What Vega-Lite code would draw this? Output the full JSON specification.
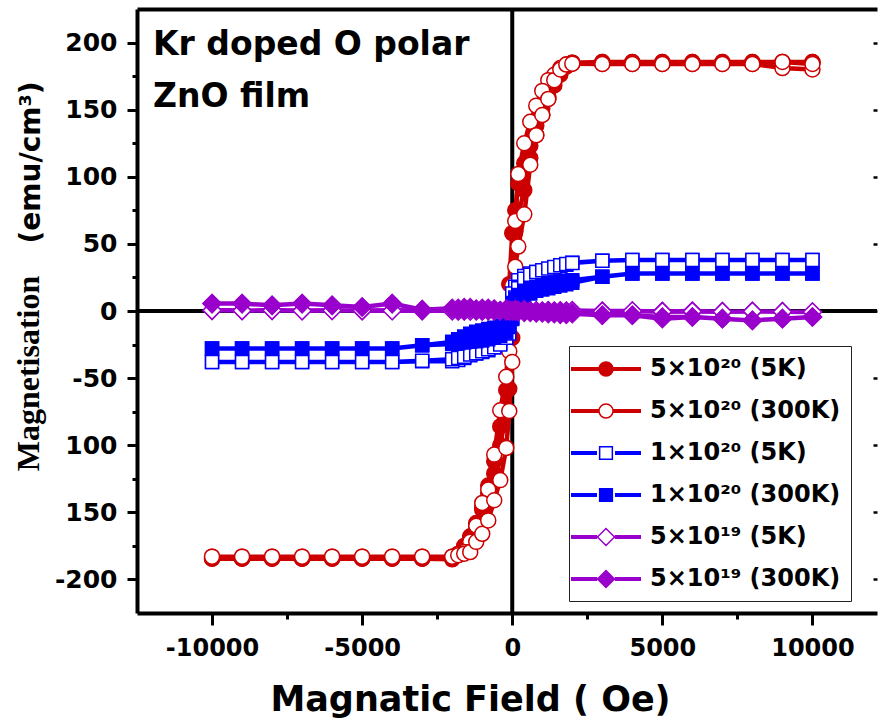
{
  "$schema": "https://vega.github.io/schema/vega-lite/v6.json",
  "width": 740,
  "height": 604,
  "autosize": {"type": "none"},
  "padding": {"left": 137, "top": 9, "right": 1, "bottom": 111},
  "background": "white",
  "config": {
    "view": {"stroke": null},
    "font": "DejaVu Sans",
    "axis": {"grid": false, "domainColor": "black", "tickColor": "black", "labelColor": "black", "titleColor": "black"}
  },
  "resolve": {"axis": {"x": "independent", "y": "independent"}},
  "data": {"values": [
    {"s":"5×10²⁰ (5K)","h":10000,"m":185.5},{"s":"5×10²⁰ (5K)","h":9000,"m":185.5},{"s":"5×10²⁰ (5K)","h":8000,"m":185.5},{"s":"5×10²⁰ (5K)","h":7000,"m":185.5},{"s":"5×10²⁰ (5K)","h":6000,"m":185.5},{"s":"5×10²⁰ (5K)","h":5000,"m":185.5},{"s":"5×10²⁰ (5K)","h":4000,"m":185.5},{"s":"5×10²⁰ (5K)","h":3000,"m":185.5},
    {"s":"5×10²⁰ (5K)","h":2000,"m":185},{"s":"5×10²⁰ (5K)","h":1800,"m":183},{"s":"5×10²⁰ (5K)","h":1600,"m":178},{"s":"5×10²⁰ (5K)","h":1400,"m":170},{"s":"5×10²⁰ (5K)","h":1200,"m":160},{"s":"5×10²⁰ (5K)","h":1000,"m":151},{"s":"5×10²⁰ (5K)","h":800,"m":138},{"s":"5×10²⁰ (5K)","h":600,"m":123},{"s":"5×10²⁰ (5K)","h":400,"m":110},{"s":"5×10²⁰ (5K)","h":200,"m":95},
    {"s":"5×10²⁰ (5K)","h":100,"m":75},{"s":"5×10²⁰ (5K)","h":0,"m":58},
    {"s":"5×10²⁰ (5K)","h":-100,"m":20},{"s":"5×10²⁰ (5K)","h":-200,"m":-59},{"s":"5×10²⁰ (5K)","h":-400,"m":-86},{"s":"5×10²⁰ (5K)","h":-600,"m":-112},{"s":"5×10²⁰ (5K)","h":-800,"m":-130},{"s":"5×10²⁰ (5K)","h":-1000,"m":-146},{"s":"5×10²⁰ (5K)","h":-1200,"m":-158},{"s":"5×10²⁰ (5K)","h":-1400,"m":-168},{"s":"5×10²⁰ (5K)","h":-1600,"m":-175},{"s":"5×10²⁰ (5K)","h":-1800,"m":-181},{"s":"5×10²⁰ (5K)","h":-2000,"m":-184},
    {"s":"5×10²⁰ (5K)","h":-3000,"m":-184.5},{"s":"5×10²⁰ (5K)","h":-4000,"m":-184.5},{"s":"5×10²⁰ (5K)","h":-5000,"m":-184.5},{"s":"5×10²⁰ (5K)","h":-6000,"m":-184.5},{"s":"5×10²⁰ (5K)","h":-7000,"m":-184.5},{"s":"5×10²⁰ (5K)","h":-8000,"m":-184.5},{"s":"5×10²⁰ (5K)","h":-9000,"m":-184.5},{"s":"5×10²⁰ (5K)","h":-10000,"m":-184.5},
    {"s":"5×10²⁰ (5K)","h":-10000,"m":-184.5},{"s":"5×10²⁰ (5K)","h":-9000,"m":-184.5},{"s":"5×10²⁰ (5K)","h":-8000,"m":-184.5},{"s":"5×10²⁰ (5K)","h":-7000,"m":-184.5},{"s":"5×10²⁰ (5K)","h":-6000,"m":-184.5},{"s":"5×10²⁰ (5K)","h":-5000,"m":-184.5},{"s":"5×10²⁰ (5K)","h":-4000,"m":-184.5},{"s":"5×10²⁰ (5K)","h":-3000,"m":-184.5},
    {"s":"5×10²⁰ (5K)","h":-2000,"m":-185},{"s":"5×10²⁰ (5K)","h":-1800,"m":-182},{"s":"5×10²⁰ (5K)","h":-1600,"m":-176},{"s":"5×10²⁰ (5K)","h":-1400,"m":-168},{"s":"5×10²⁰ (5K)","h":-1200,"m":-160},{"s":"5×10²⁰ (5K)","h":-1000,"m":-148},{"s":"5×10²⁰ (5K)","h":-800,"m":-136},{"s":"5×10²⁰ (5K)","h":-600,"m":-121},{"s":"5×10²⁰ (5K)","h":-400,"m":-100},{"s":"5×10²⁰ (5K)","h":-200,"m":-75},
    {"s":"5×10²⁰ (5K)","h":-100,"m":-58},{"s":"5×10²⁰ (5K)","h":0,"m":-20},
    {"s":"5×10²⁰ (5K)","h":100,"m":59},{"s":"5×10²⁰ (5K)","h":200,"m":72},{"s":"5×10²⁰ (5K)","h":400,"m":90},{"s":"5×10²⁰ (5K)","h":600,"m":114},{"s":"5×10²⁰ (5K)","h":800,"m":131},{"s":"5×10²⁰ (5K)","h":1000,"m":146},{"s":"5×10²⁰ (5K)","h":1200,"m":158},{"s":"5×10²⁰ (5K)","h":1400,"m":168},{"s":"5×10²⁰ (5K)","h":1600,"m":176},{"s":"5×10²⁰ (5K)","h":1800,"m":182},{"s":"5×10²⁰ (5K)","h":2000,"m":185},
    {"s":"5×10²⁰ (5K)","h":3000,"m":185.5},{"s":"5×10²⁰ (5K)","h":4000,"m":185.5},{"s":"5×10²⁰ (5K)","h":5000,"m":185.5},{"s":"5×10²⁰ (5K)","h":6000,"m":185.5},{"s":"5×10²⁰ (5K)","h":7000,"m":185.5},{"s":"5×10²⁰ (5K)","h":8000,"m":185.5},{"s":"5×10²⁰ (5K)","h":9000,"m":185.5},{"s":"5×10²⁰ (5K)","h":10000,"m":185.5},

    {"s":"5×10²⁰ (300K)","h":10000,"m":180},{"s":"5×10²⁰ (300K)","h":9000,"m":181},{"s":"5×10²⁰ (300K)","h":8000,"m":184},{"s":"5×10²⁰ (300K)","h":7000,"m":184},{"s":"5×10²⁰ (300K)","h":6000,"m":184},{"s":"5×10²⁰ (300K)","h":5000,"m":184},{"s":"5×10²⁰ (300K)","h":4000,"m":184},{"s":"5×10²⁰ (300K)","h":3000,"m":184},
    {"s":"5×10²⁰ (300K)","h":2000,"m":184.3},{"s":"5×10²⁰ (300K)","h":1800,"m":183.6},{"s":"5×10²⁰ (300K)","h":1600,"m":181},{"s":"5×10²⁰ (300K)","h":1400,"m":176},{"s":"5×10²⁰ (300K)","h":1200,"m":172},{"s":"5×10²⁰ (300K)","h":1000,"m":164},{"s":"5×10²⁰ (300K)","h":800,"m":153},{"s":"5×10²⁰ (300K)","h":600,"m":141},{"s":"5×10²⁰ (300K)","h":400,"m":125},{"s":"5×10²⁰ (300K)","h":200,"m":102},
    {"s":"5×10²⁰ (300K)","h":100,"m":67},{"s":"5×10²⁰ (300K)","h":0,"m":19},
    {"s":"5×10²⁰ (300K)","h":-100,"m":-30},{"s":"5×10²⁰ (300K)","h":-200,"m":-49},{"s":"5×10²⁰ (300K)","h":-400,"m":-74},{"s":"5×10²⁰ (300K)","h":-600,"m":-107},{"s":"5×10²⁰ (300K)","h":-800,"m":-133},{"s":"5×10²⁰ (300K)","h":-1000,"m":-143},{"s":"5×10²⁰ (300K)","h":-1200,"m":-160},{"s":"5×10²⁰ (300K)","h":-1400,"m":-172},{"s":"5×10²⁰ (300K)","h":-1600,"m":-179.6},{"s":"5×10²⁰ (300K)","h":-1800,"m":-181},{"s":"5×10²⁰ (300K)","h":-2000,"m":-183},
    {"s":"5×10²⁰ (300K)","h":-3000,"m":-183},{"s":"5×10²⁰ (300K)","h":-4000,"m":-183},{"s":"5×10²⁰ (300K)","h":-5000,"m":-183},{"s":"5×10²⁰ (300K)","h":-6000,"m":-183},{"s":"5×10²⁰ (300K)","h":-7000,"m":-183},{"s":"5×10²⁰ (300K)","h":-8000,"m":-183},{"s":"5×10²⁰ (300K)","h":-9000,"m":-183},{"s":"5×10²⁰ (300K)","h":-10000,"m":-183},
    {"s":"5×10²⁰ (300K)","h":-10000,"m":-183},{"s":"5×10²⁰ (300K)","h":-9000,"m":-183},{"s":"5×10²⁰ (300K)","h":-8000,"m":-183},{"s":"5×10²⁰ (300K)","h":-7000,"m":-183},{"s":"5×10²⁰ (300K)","h":-6000,"m":-183},{"s":"5×10²⁰ (300K)","h":-5000,"m":-183},{"s":"5×10²⁰ (300K)","h":-4000,"m":-183},{"s":"5×10²⁰ (300K)","h":-3000,"m":-183},
    {"s":"5×10²⁰ (300K)","h":-2000,"m":-183},{"s":"5×10²⁰ (300K)","h":-1800,"m":-182},{"s":"5×10²⁰ (300K)","h":-1600,"m":-180.8},{"s":"5×10²⁰ (300K)","h":-1400,"m":-179.6},{"s":"5×10²⁰ (300K)","h":-1200,"m":-172},{"s":"5×10²⁰ (300K)","h":-1000,"m":-166},{"s":"5×10²⁰ (300K)","h":-800,"m":-156},{"s":"5×10²⁰ (300K)","h":-600,"m":-141},{"s":"5×10²⁰ (300K)","h":-400,"m":-126},{"s":"5×10²⁰ (300K)","h":-200,"m":-102},
    {"s":"5×10²⁰ (300K)","h":-100,"m":-74.5},{"s":"5×10²⁰ (300K)","h":0,"m":-38},
    {"s":"5×10²⁰ (300K)","h":100,"m":33},{"s":"5×10²⁰ (300K)","h":200,"m":48},{"s":"5×10²⁰ (300K)","h":400,"m":72},{"s":"5×10²⁰ (300K)","h":600,"m":109},{"s":"5×10²⁰ (300K)","h":800,"m":131},{"s":"5×10²⁰ (300K)","h":1000,"m":146},{"s":"5×10²⁰ (300K)","h":1200,"m":158},{"s":"5×10²⁰ (300K)","h":1400,"m":172},{"s":"5×10²⁰ (300K)","h":1600,"m":180},{"s":"5×10²⁰ (300K)","h":1800,"m":183.6},{"s":"5×10²⁰ (300K)","h":2000,"m":184.3},
    {"s":"5×10²⁰ (300K)","h":3000,"m":184},{"s":"5×10²⁰ (300K)","h":4000,"m":184},{"s":"5×10²⁰ (300K)","h":5000,"m":184},{"s":"5×10²⁰ (300K)","h":6000,"m":184},{"s":"5×10²⁰ (300K)","h":7000,"m":184},{"s":"5×10²⁰ (300K)","h":8000,"m":184},{"s":"5×10²⁰ (300K)","h":9000,"m":185.5},{"s":"5×10²⁰ (300K)","h":10000,"m":184},

    {"s":"1×10²⁰ (5K)","h":10000,"m":38},{"s":"1×10²⁰ (5K)","h":9000,"m":38},{"s":"1×10²⁰ (5K)","h":8000,"m":38},{"s":"1×10²⁰ (5K)","h":7000,"m":38},{"s":"1×10²⁰ (5K)","h":6000,"m":38},{"s":"1×10²⁰ (5K)","h":5000,"m":38},{"s":"1×10²⁰ (5K)","h":4000,"m":38},{"s":"1×10²⁰ (5K)","h":3000,"m":37.5},
    {"s":"1×10²⁰ (5K)","h":2000,"m":36},{"s":"1×10²⁰ (5K)","h":1800,"m":34.5},{"s":"1×10²⁰ (5K)","h":1600,"m":33.5},{"s":"1×10²⁰ (5K)","h":1400,"m":32.5},{"s":"1×10²⁰ (5K)","h":1200,"m":31},{"s":"1×10²⁰ (5K)","h":1000,"m":30},{"s":"1×10²⁰ (5K)","h":800,"m":29},{"s":"1×10²⁰ (5K)","h":600,"m":28},{"s":"1×10²⁰ (5K)","h":400,"m":26},{"s":"1×10²⁰ (5K)","h":200,"m":23},
    {"s":"1×10²⁰ (5K)","h":100,"m":18},{"s":"1×10²⁰ (5K)","h":0,"m":13},
    {"s":"1×10²⁰ (5K)","h":-100,"m":-10},{"s":"1×10²⁰ (5K)","h":-200,"m":-17},{"s":"1×10²⁰ (5K)","h":-400,"m":-24},{"s":"1×10²⁰ (5K)","h":-600,"m":-27},{"s":"1×10²⁰ (5K)","h":-800,"m":-29.3},{"s":"1×10²⁰ (5K)","h":-1000,"m":-30.5},{"s":"1×10²⁰ (5K)","h":-1200,"m":-31.7},{"s":"1×10²⁰ (5K)","h":-1400,"m":-33},{"s":"1×10²⁰ (5K)","h":-1600,"m":-35},{"s":"1×10²⁰ (5K)","h":-1800,"m":-36.5},{"s":"1×10²⁰ (5K)","h":-2000,"m":-37.5},
    {"s":"1×10²⁰ (5K)","h":-3000,"m":-37.5},{"s":"1×10²⁰ (5K)","h":-4000,"m":-38},{"s":"1×10²⁰ (5K)","h":-5000,"m":-38},{"s":"1×10²⁰ (5K)","h":-6000,"m":-38},{"s":"1×10²⁰ (5K)","h":-7000,"m":-38},{"s":"1×10²⁰ (5K)","h":-8000,"m":-38},{"s":"1×10²⁰ (5K)","h":-9000,"m":-38},{"s":"1×10²⁰ (5K)","h":-10000,"m":-38},
    {"s":"1×10²⁰ (5K)","h":-10000,"m":-38},{"s":"1×10²⁰ (5K)","h":-9000,"m":-38},{"s":"1×10²⁰ (5K)","h":-8000,"m":-38},{"s":"1×10²⁰ (5K)","h":-7000,"m":-38},{"s":"1×10²⁰ (5K)","h":-6000,"m":-38},{"s":"1×10²⁰ (5K)","h":-5000,"m":-38},{"s":"1×10²⁰ (5K)","h":-4000,"m":-38},{"s":"1×10²⁰ (5K)","h":-3000,"m":-37},
    {"s":"1×10²⁰ (5K)","h":-2000,"m":-36},{"s":"1×10²⁰ (5K)","h":-1800,"m":-35},{"s":"1×10²⁰ (5K)","h":-1600,"m":-34},{"s":"1×10²⁰ (5K)","h":-1400,"m":-32.5},{"s":"1×10²⁰ (5K)","h":-1200,"m":-31.5},{"s":"1×10²⁰ (5K)","h":-1000,"m":-30},{"s":"1×10²⁰ (5K)","h":-800,"m":-28.5},{"s":"1×10²⁰ (5K)","h":-600,"m":-27},{"s":"1×10²⁰ (5K)","h":-400,"m":-25},{"s":"1×10²⁰ (5K)","h":-200,"m":-20},
    {"s":"1×10²⁰ (5K)","h":-100,"m":-16.8},{"s":"1×10²⁰ (5K)","h":0,"m":-5},
    {"s":"1×10²⁰ (5K)","h":100,"m":10},{"s":"1×10²⁰ (5K)","h":200,"m":17},{"s":"1×10²⁰ (5K)","h":400,"m":24},{"s":"1×10²⁰ (5K)","h":600,"m":27},{"s":"1×10²⁰ (5K)","h":800,"m":29},{"s":"1×10²⁰ (5K)","h":1000,"m":30.3},{"s":"1×10²⁰ (5K)","h":1200,"m":31.6},{"s":"1×10²⁰ (5K)","h":1400,"m":32.8},{"s":"1×10²⁰ (5K)","h":1600,"m":34},{"s":"1×10²⁰ (5K)","h":1800,"m":35},{"s":"1×10²⁰ (5K)","h":2000,"m":35.8},
    {"s":"1×10²⁰ (5K)","h":3000,"m":37.5},{"s":"1×10²⁰ (5K)","h":4000,"m":38},{"s":"1×10²⁰ (5K)","h":5000,"m":38},{"s":"1×10²⁰ (5K)","h":6000,"m":38},{"s":"1×10²⁰ (5K)","h":7000,"m":38},{"s":"1×10²⁰ (5K)","h":8000,"m":38},{"s":"1×10²⁰ (5K)","h":9000,"m":38},{"s":"1×10²⁰ (5K)","h":10000,"m":38},

    {"s":"1×10²⁰ (300K)","h":10000,"m":28},{"s":"1×10²⁰ (300K)","h":9000,"m":28},{"s":"1×10²⁰ (300K)","h":8000,"m":28},{"s":"1×10²⁰ (300K)","h":7000,"m":28},{"s":"1×10²⁰ (300K)","h":6000,"m":28},{"s":"1×10²⁰ (300K)","h":5000,"m":28},{"s":"1×10²⁰ (300K)","h":4000,"m":28},{"s":"1×10²⁰ (300K)","h":3000,"m":25.5},
    {"s":"1×10²⁰ (300K)","h":2000,"m":23},{"s":"1×10²⁰ (300K)","h":1800,"m":22.5},{"s":"1×10²⁰ (300K)","h":1600,"m":22},{"s":"1×10²⁰ (300K)","h":1400,"m":21},{"s":"1×10²⁰ (300K)","h":1200,"m":20},{"s":"1×10²⁰ (300K)","h":1000,"m":19},{"s":"1×10²⁰ (300K)","h":800,"m":18},{"s":"1×10²⁰ (300K)","h":600,"m":16.5},{"s":"1×10²⁰ (300K)","h":400,"m":15},{"s":"1×10²⁰ (300K)","h":200,"m":12},
    {"s":"1×10²⁰ (300K)","h":100,"m":9},{"s":"1×10²⁰ (300K)","h":0,"m":6},
    {"s":"1×10²⁰ (300K)","h":-100,"m":-3},{"s":"1×10²⁰ (300K)","h":-200,"m":-8},{"s":"1×10²⁰ (300K)","h":-400,"m":-11},{"s":"1×10²⁰ (300K)","h":-600,"m":-12.5},{"s":"1×10²⁰ (300K)","h":-800,"m":-13.5},{"s":"1×10²⁰ (300K)","h":-1000,"m":-14.5},{"s":"1×10²⁰ (300K)","h":-1200,"m":-15.5},{"s":"1×10²⁰ (300K)","h":-1400,"m":-17},{"s":"1×10²⁰ (300K)","h":-1600,"m":-19},{"s":"1×10²⁰ (300K)","h":-1800,"m":-21},{"s":"1×10²⁰ (300K)","h":-2000,"m":-23},
    {"s":"1×10²⁰ (300K)","h":-3000,"m":-25.5},{"s":"1×10²⁰ (300K)","h":-4000,"m":-28},{"s":"1×10²⁰ (300K)","h":-5000,"m":-28},{"s":"1×10²⁰ (300K)","h":-6000,"m":-28},{"s":"1×10²⁰ (300K)","h":-7000,"m":-28},{"s":"1×10²⁰ (300K)","h":-8000,"m":-28},{"s":"1×10²⁰ (300K)","h":-9000,"m":-28},{"s":"1×10²⁰ (300K)","h":-10000,"m":-28},
    {"s":"1×10²⁰ (300K)","h":-10000,"m":-28},{"s":"1×10²⁰ (300K)","h":-9000,"m":-28},{"s":"1×10²⁰ (300K)","h":-8000,"m":-28},{"s":"1×10²⁰ (300K)","h":-7000,"m":-28},{"s":"1×10²⁰ (300K)","h":-6000,"m":-28},{"s":"1×10²⁰ (300K)","h":-5000,"m":-28},{"s":"1×10²⁰ (300K)","h":-4000,"m":-28},{"s":"1×10²⁰ (300K)","h":-3000,"m":-25.5},
    {"s":"1×10²⁰ (300K)","h":-2000,"m":-24.5},{"s":"1×10²⁰ (300K)","h":-1800,"m":-24},{"s":"1×10²⁰ (300K)","h":-1600,"m":-23.5},{"s":"1×10²⁰ (300K)","h":-1400,"m":-23},{"s":"1×10²⁰ (300K)","h":-1200,"m":-22.5},{"s":"1×10²⁰ (300K)","h":-1000,"m":-22},{"s":"1×10²⁰ (300K)","h":-800,"m":-21},{"s":"1×10²⁰ (300K)","h":-600,"m":-20},{"s":"1×10²⁰ (300K)","h":-400,"m":-18.5},{"s":"1×10²⁰ (300K)","h":-200,"m":-16},
    {"s":"1×10²⁰ (300K)","h":-100,"m":-12},{"s":"1×10²⁰ (300K)","h":0,"m":-6},
    {"s":"1×10²⁰ (300K)","h":100,"m":3},{"s":"1×10²⁰ (300K)","h":200,"m":8},{"s":"1×10²⁰ (300K)","h":400,"m":11},{"s":"1×10²⁰ (300K)","h":600,"m":13},{"s":"1×10²⁰ (300K)","h":800,"m":15},{"s":"1×10²⁰ (300K)","h":1000,"m":16},{"s":"1×10²⁰ (300K)","h":1200,"m":17},{"s":"1×10²⁰ (300K)","h":1400,"m":18},{"s":"1×10²⁰ (300K)","h":1600,"m":19},{"s":"1×10²⁰ (300K)","h":1800,"m":20},{"s":"1×10²⁰ (300K)","h":2000,"m":21},
    {"s":"1×10²⁰ (300K)","h":3000,"m":25.5},{"s":"1×10²⁰ (300K)","h":4000,"m":28},{"s":"1×10²⁰ (300K)","h":5000,"m":28},{"s":"1×10²⁰ (300K)","h":6000,"m":28},{"s":"1×10²⁰ (300K)","h":7000,"m":28},{"s":"1×10²⁰ (300K)","h":8000,"m":28},{"s":"1×10²⁰ (300K)","h":9000,"m":28},{"s":"1×10²⁰ (300K)","h":10000,"m":28},

    {"s":"5×10¹⁹ (5K)","h":10000,"m":-0.7},{"s":"5×10¹⁹ (5K)","h":9000,"m":-0.5},{"s":"5×10¹⁹ (5K)","h":8000,"m":-0.3},{"s":"5×10¹⁹ (5K)","h":7000,"m":-0.5},{"s":"5×10¹⁹ (5K)","h":6000,"m":0},{"s":"5×10¹⁹ (5K)","h":5000,"m":-0.3},{"s":"5×10¹⁹ (5K)","h":4000,"m":0},{"s":"5×10¹⁹ (5K)","h":3000,"m":0},
    {"s":"5×10¹⁹ (5K)","h":2000,"m":0.3},{"s":"5×10¹⁹ (5K)","h":1800,"m":0},{"s":"5×10¹⁹ (5K)","h":1600,"m":0.2},{"s":"5×10¹⁹ (5K)","h":1400,"m":0},{"s":"5×10¹⁹ (5K)","h":1200,"m":0.3},{"s":"5×10¹⁹ (5K)","h":1000,"m":0},{"s":"5×10¹⁹ (5K)","h":800,"m":0.2},{"s":"5×10¹⁹ (5K)","h":600,"m":0},{"s":"5×10¹⁹ (5K)","h":400,"m":0.3},{"s":"5×10¹⁹ (5K)","h":200,"m":0},
    {"s":"5×10¹⁹ (5K)","h":100,"m":0.2},{"s":"5×10¹⁹ (5K)","h":0,"m":0},
    {"s":"5×10¹⁹ (5K)","h":-100,"m":0.2},{"s":"5×10¹⁹ (5K)","h":-200,"m":0},{"s":"5×10¹⁹ (5K)","h":-400,"m":0.3},{"s":"5×10¹⁹ (5K)","h":-600,"m":0},{"s":"5×10¹⁹ (5K)","h":-800,"m":0.2},{"s":"5×10¹⁹ (5K)","h":-1000,"m":0},{"s":"5×10¹⁹ (5K)","h":-1200,"m":0.3},{"s":"5×10¹⁹ (5K)","h":-1400,"m":0.2},{"s":"5×10¹⁹ (5K)","h":-1600,"m":0},{"s":"5×10¹⁹ (5K)","h":-1800,"m":0.3},{"s":"5×10¹⁹ (5K)","h":-2000,"m":0.2},
    {"s":"5×10¹⁹ (5K)","h":-3000,"m":0.3},{"s":"5×10¹⁹ (5K)","h":-4000,"m":0.5},{"s":"5×10¹⁹ (5K)","h":-5000,"m":0.2},{"s":"5×10¹⁹ (5K)","h":-6000,"m":0.5},{"s":"5×10¹⁹ (5K)","h":-7000,"m":0.3},{"s":"5×10¹⁹ (5K)","h":-8000,"m":0.5},{"s":"5×10¹⁹ (5K)","h":-9000,"m":0.4},{"s":"5×10¹⁹ (5K)","h":-10000,"m":0.5},
    {"s":"5×10¹⁹ (5K)","h":-10000,"m":0.5},{"s":"5×10¹⁹ (5K)","h":-9000,"m":0.3},{"s":"5×10¹⁹ (5K)","h":-8000,"m":0.5},{"s":"5×10¹⁹ (5K)","h":-7000,"m":0.2},{"s":"5×10¹⁹ (5K)","h":-6000,"m":0.4},{"s":"5×10¹⁹ (5K)","h":-5000,"m":0.3},{"s":"5×10¹⁹ (5K)","h":-4000,"m":0.2},{"s":"5×10¹⁹ (5K)","h":-3000,"m":0.3},
    {"s":"5×10¹⁹ (5K)","h":-2000,"m":0.2},{"s":"5×10¹⁹ (5K)","h":-1800,"m":0},{"s":"5×10¹⁹ (5K)","h":-1600,"m":0.3},{"s":"5×10¹⁹ (5K)","h":-1400,"m":0},{"s":"5×10¹⁹ (5K)","h":-1200,"m":0.2},{"s":"5×10¹⁹ (5K)","h":-1000,"m":0},{"s":"5×10¹⁹ (5K)","h":-800,"m":0.3},{"s":"5×10¹⁹ (5K)","h":-600,"m":0},{"s":"5×10¹⁹ (5K)","h":-400,"m":0.2},{"s":"5×10¹⁹ (5K)","h":-200,"m":0},
    {"s":"5×10¹⁹ (5K)","h":-100,"m":0},{"s":"5×10¹⁹ (5K)","h":0,"m":0.2},
    {"s":"5×10¹⁹ (5K)","h":100,"m":0},{"s":"5×10¹⁹ (5K)","h":200,"m":-0.2},{"s":"5×10¹⁹ (5K)","h":400,"m":0},{"s":"5×10¹⁹ (5K)","h":600,"m":-0.3},{"s":"5×10¹⁹ (5K)","h":800,"m":0},{"s":"5×10¹⁹ (5K)","h":1000,"m":-0.2},{"s":"5×10¹⁹ (5K)","h":1200,"m":0},{"s":"5×10¹⁹ (5K)","h":1400,"m":-0.3},{"s":"5×10¹⁹ (5K)","h":1600,"m":0},{"s":"5×10¹⁹ (5K)","h":1800,"m":-0.2},{"s":"5×10¹⁹ (5K)","h":2000,"m":0},
    {"s":"5×10¹⁹ (5K)","h":3000,"m":-0.3},{"s":"5×10¹⁹ (5K)","h":4000,"m":0},{"s":"5×10¹⁹ (5K)","h":5000,"m":-0.5},{"s":"5×10¹⁹ (5K)","h":6000,"m":-0.3},{"s":"5×10¹⁹ (5K)","h":7000,"m":-0.5},{"s":"5×10¹⁹ (5K)","h":8000,"m":-0.3},{"s":"5×10¹⁹ (5K)","h":9000,"m":-0.5},{"s":"5×10¹⁹ (5K)","h":10000,"m":-0.7},

    {"s":"5×10¹⁹ (300K)","h":10000,"m":-4.5},{"s":"5×10¹⁹ (300K)","h":9000,"m":-5.7},{"s":"5×10¹⁹ (300K)","h":8000,"m":-7},{"s":"5×10¹⁹ (300K)","h":7000,"m":-5.7},{"s":"5×10¹⁹ (300K)","h":6000,"m":-4.5},{"s":"5×10¹⁹ (300K)","h":5000,"m":-5.7},{"s":"5×10¹⁹ (300K)","h":4000,"m":-3.2},{"s":"5×10¹⁹ (300K)","h":3000,"m":-3.2},
    {"s":"5×10¹⁹ (300K)","h":2000,"m":-2},{"s":"5×10¹⁹ (300K)","h":1800,"m":-1.5},{"s":"5×10¹⁹ (300K)","h":1600,"m":-2.5},{"s":"5×10¹⁹ (300K)","h":1400,"m":-1},{"s":"5×10¹⁹ (300K)","h":1200,"m":-2},{"s":"5×10¹⁹ (300K)","h":1000,"m":-0.5},{"s":"5×10¹⁹ (300K)","h":800,"m":-1.5},{"s":"5×10¹⁹ (300K)","h":600,"m":0},{"s":"5×10¹⁹ (300K)","h":400,"m":-1},{"s":"5×10¹⁹ (300K)","h":200,"m":0.5},
    {"s":"5×10¹⁹ (300K)","h":100,"m":1},{"s":"5×10¹⁹ (300K)","h":0,"m":0},
    {"s":"5×10¹⁹ (300K)","h":-100,"m":0.5},{"s":"5×10¹⁹ (300K)","h":-200,"m":1.5},{"s":"5×10¹⁹ (300K)","h":-400,"m":0},{"s":"5×10¹⁹ (300K)","h":-600,"m":1},{"s":"5×10¹⁹ (300K)","h":-800,"m":2},{"s":"5×10¹⁹ (300K)","h":-1000,"m":0.5},{"s":"5×10¹⁹ (300K)","h":-1200,"m":1.5},{"s":"5×10¹⁹ (300K)","h":-1400,"m":2.5},{"s":"5×10¹⁹ (300K)","h":-1600,"m":1},{"s":"5×10¹⁹ (300K)","h":-1800,"m":2},{"s":"5×10¹⁹ (300K)","h":-2000,"m":1.5},
    {"s":"5×10¹⁹ (300K)","h":-3000,"m":1},{"s":"5×10¹⁹ (300K)","h":-4000,"m":5.5},{"s":"5×10¹⁹ (300K)","h":-5000,"m":3},{"s":"5×10¹⁹ (300K)","h":-6000,"m":4.2},{"s":"5×10¹⁹ (300K)","h":-7000,"m":5.5},{"s":"5×10¹⁹ (300K)","h":-8000,"m":4.2},{"s":"5×10¹⁹ (300K)","h":-9000,"m":5.5},{"s":"5×10¹⁹ (300K)","h":-10000,"m":5.5},
    {"s":"5×10¹⁹ (300K)","h":-10000,"m":5.5},{"s":"5×10¹⁹ (300K)","h":-9000,"m":5.5},{"s":"5×10¹⁹ (300K)","h":-8000,"m":4.2},{"s":"5×10¹⁹ (300K)","h":-7000,"m":5.5},{"s":"5×10¹⁹ (300K)","h":-6000,"m":4.2},{"s":"5×10¹⁹ (300K)","h":-5000,"m":3},{"s":"5×10¹⁹ (300K)","h":-4000,"m":5.5},{"s":"5×10¹⁹ (300K)","h":-3000,"m":1},
    {"s":"5×10¹⁹ (300K)","h":-2000,"m":2},{"s":"5×10¹⁹ (300K)","h":-1800,"m":1},{"s":"5×10¹⁹ (300K)","h":-1600,"m":2.5},{"s":"5×10¹⁹ (300K)","h":-1400,"m":1.5},{"s":"5×10¹⁹ (300K)","h":-1200,"m":0.5},{"s":"5×10¹⁹ (300K)","h":-1000,"m":2},{"s":"5×10¹⁹ (300K)","h":-800,"m":1},{"s":"5×10¹⁹ (300K)","h":-600,"m":1.5},{"s":"5×10¹⁹ (300K)","h":-400,"m":0},{"s":"5×10¹⁹ (300K)","h":-200,"m":1},
    {"s":"5×10¹⁹ (300K)","h":-100,"m":0.5},{"s":"5×10¹⁹ (300K)","h":0,"m":0},
    {"s":"5×10¹⁹ (300K)","h":100,"m":0.5},{"s":"5×10¹⁹ (300K)","h":200,"m":-0.5},{"s":"5×10¹⁹ (300K)","h":400,"m":1},{"s":"5×10¹⁹ (300K)","h":600,"m":-1},{"s":"5×10¹⁹ (300K)","h":800,"m":0},{"s":"5×10¹⁹ (300K)","h":1000,"m":-1.5},{"s":"5×10¹⁹ (300K)","h":1200,"m":-0.5},{"s":"5×10¹⁹ (300K)","h":1400,"m":-2},{"s":"5×10¹⁹ (300K)","h":1600,"m":-1},{"s":"5×10¹⁹ (300K)","h":1800,"m":-2.5},{"s":"5×10¹⁹ (300K)","h":2000,"m":-1.5},
    {"s":"5×10¹⁹ (300K)","h":3000,"m":-3.2},{"s":"5×10¹⁹ (300K)","h":4000,"m":-3.2},{"s":"5×10¹⁹ (300K)","h":5000,"m":-4.5},{"s":"5×10¹⁹ (300K)","h":6000,"m":-4.5},{"s":"5×10¹⁹ (300K)","h":7000,"m":-5.7},{"s":"5×10¹⁹ (300K)","h":8000,"m":-7},{"s":"5×10¹⁹ (300K)","h":9000,"m":-5.7},{"s":"5×10¹⁹ (300K)","h":10000,"m":-4.5}
  ]},
  "layer": [
    {
      "data": {"values": [{}]},
      "mark": {"type": "rule", "color": "black", "strokeWidth": 4},
      "encoding": {
        "x": {
          "datum": 0, "type": "quantitative",
          "scale": {"domain": [-12500, 12150], "nice": false, "zero": false},
          "axis": {
            "orient": "top", "domainWidth": 4, "ticks": false, "labels": false,
            "title": "(emu/cm³)", "titleAngle": 270, "titleX": -106, "titleY": 153,
            "titleFont": "DejaVu Sans", "titleFontSize": 28, "titleFontWeight": "bold",
            "titleAlign": "center", "titleBaseline": "middle"
          }
        }
      }
    },
    {
      "data": {"values": [{}]},
      "mark": {"type": "rule", "color": "black", "strokeWidth": 4},
      "encoding": {
        "y": {
          "datum": 0, "type": "quantitative",
          "scale": {"domain": [-225, 225], "nice": false, "zero": false},
          "axis": {
            "orient": "right", "values": [-200, -150, -100, -50, 0, 50, 100, 150, 200],
            "domain": false, "labels": false, "tickSize": -4, "tickWidth": 2.5, "title": null
          }
        }
      }
    },
    {
      "mark": {"type": "line", "strokeWidth": 4.5},
      "encoding": {
        "x": {
          "field": "h", "type": "quantitative",
          "scale": {"domain": [-12500, 12150], "nice": false, "zero": false},
          "axis": {"orient": "bottom", "values": [-7500, -2500, 2500, 7500], "domain": false, "labels": false, "tickSize": 6, "tickWidth": 3, "title": null}
        },
        "y": {
          "field": "m", "type": "quantitative",
          "scale": {"domain": [-225, 225], "nice": false, "zero": false},
          "axis": {"orient": "left", "values": [-175, -125, -75, -25, 25, 75, 125, 175], "domain": false, "labels": false, "tickSize": 5, "tickWidth": 3, "title": null}
        },
        "stroke": {
          "field": "s", "type": "nominal",
          "scale": {
            "domain": ["5×10²⁰ (5K)", "5×10²⁰ (300K)", "1×10²⁰ (5K)", "1×10²⁰ (300K)", "5×10¹⁹ (5K)", "5×10¹⁹ (300K)"],
            "range": ["#CC0000", "#CC0000", "#0000FF", "#0000FF", "#9900CC", "#9900CC"]
          },
          "legend": {
            "orient": "none", "legendX": 432, "legendY": 337, "title": null,
            "padding": 10, "strokeColor": "#222222", "fillColor": "white",
            "labelFont": "DejaVu Sans", "labelFontSize": 24, "labelFontWeight": "bold", "labelColor": "black",
            "labelOffset": 31, "labelLimit": 400, "rowPadding": 17,
            "symbolSize": 576, "symbolStrokeWidth": 1.5, "symbolOffset": 14,
            "encoding": {
              "symbols": {
                "shape": {"value": {"expr": "datum.index < 2 ? 'M-2.917,-0.104L-0.617,-0.104M-2.917,0L-0.617,0M-2.917,0.104L-0.617,0.104M0.617,-0.104L2.917,-0.104M0.617,0L2.917,0M0.617,0.104L2.917,0.104M0.583,0A0.583,0.583,0,1,1,-0.583,0A0.583,0.583,0,1,1,0.583,0Z' : datum.index < 4 ? 'M-2.917,-0.104L-0.75,-0.104M-2.917,0L-0.75,0M-2.917,0.104L-0.75,0.104M0.75,-0.104L2.917,-0.104M0.75,0L2.917,0M0.75,0.104L2.917,0.104M-0.529,-0.529L0.529,-0.529L0.529,0.529L-0.529,0.529Z' : 'M-2.917,-0.104L-0.733,-0.104M-2.917,0L-0.733,0M-2.917,0.104L-0.733,0.104M0.733,-0.104L2.917,-0.104M0.733,0L2.917,0M0.733,0.104L2.917,0.104M-0.708,0L0,-0.708L0.708,0L0,0.708Z'"}},
                "size": {"value": 576},
                "strokeWidth": {"value": 1.5},
                "opacity": {"value": 1}
              }
            }
          }
        },
        "order": {"value": null}
      }
    },
    {
      "transform": [{"filter": {"field": "s", "oneOf": ["5×10²⁰ (5K)", "5×10²⁰ (300K)"]}}],
      "mark": {"type": "point", "shape": "circle", "size": 225, "filled": true, "strokeWidth": 1.5, "opacity": 1},
      "encoding": {
        "x": {
          "field": "h", "type": "quantitative",
          "scale": {"domain": [-12500, 12150], "nice": false, "zero": false},
          "axis": {
            "orient": "bottom", "values": [-10000, -5000, 0, 5000, 10000],
            "domainWidth": 4, "tickSize": 12, "tickWidth": 3,
            "labelFont": "DejaVu Sans", "labelFontSize": 24, "labelFontWeight": "bold",
            "labelPadding": 11, "labelExpr": "'' + datum.value", "labelFlush": false, "labelOverlap": false,
            "title": "Magnatic Field ( Oe)", "titleFont": "DejaVu Sans", "titleFontSize": 35, "titleFontWeight": "bold",
            "titleX": 333, "titleY": 97, "titleAlign": "center", "titleBaseline": "alphabetic"
          }
        },
        "y": {
          "field": "m", "type": "quantitative",
          "scale": {"domain": [-225, 225], "nice": false, "zero": false},
          "axis": {
            "orient": "left", "values": [-200, -150, -100, -50, 0, 50, 100, 150, 200],
            "domainWidth": 4, "tickSize": 10, "tickWidth": 3,
            "labelFont": "DejaVu Sans", "labelFontSize": 25, "labelFontWeight": "bold",
            "labelPadding": 10, "labelFlush": false, "labelOverlap": false,
            "labelExpr": "datum.value == -100 || datum.value == -150 ? '' + abs(datum.value) : '' + datum.value",
            "title": "Magnetisation", "titleFont": "Liberation Serif", "titleFontSize": 32, "titleFontWeight": "bold",
            "titleAngle": 270, "titleX": -109, "titleY": 364, "titleAlign": "center", "titleBaseline": "middle"
          }
        },
        "fill": {
          "field": "s", "type": "nominal",
          "scale": {
            "domain": ["5×10²⁰ (5K)", "5×10²⁰ (300K)", "1×10²⁰ (5K)", "1×10²⁰ (300K)", "5×10¹⁹ (5K)", "5×10¹⁹ (300K)"],
            "range": ["#CC0000", "#FFFFFF", "#FFFFFF", "#0000FF", "#FFFFFF", "#9900CC"]
          }
        },
        "stroke": {
          "field": "s", "type": "nominal",
          "scale": {
            "domain": ["5×10²⁰ (5K)", "5×10²⁰ (300K)", "1×10²⁰ (5K)", "1×10²⁰ (300K)", "5×10¹⁹ (5K)", "5×10¹⁹ (300K)"],
            "range": ["#CC0000", "#CC0000", "#0000FF", "#0000FF", "#9900CC", "#9900CC"]
          }
        }
      }
    },
    {
      "transform": [{"filter": {"field": "s", "oneOf": ["1×10²⁰ (5K)", "1×10²⁰ (300K)"]}}],
      "mark": {"type": "point", "shape": "square", "size": 169, "filled": true, "strokeWidth": 1.5, "opacity": 1},
      "encoding": {
        "x": {"field": "h", "type": "quantitative", "scale": {"domain": [-12500, 12150], "nice": false, "zero": false}, "axis": null},
        "y": {"field": "m", "type": "quantitative", "scale": {"domain": [-225, 225], "nice": false, "zero": false}, "axis": null},
        "fill": {
          "field": "s", "type": "nominal",
          "scale": {
            "domain": ["5×10²⁰ (5K)", "5×10²⁰ (300K)", "1×10²⁰ (5K)", "1×10²⁰ (300K)", "5×10¹⁹ (5K)", "5×10¹⁹ (300K)"],
            "range": ["#CC0000", "#FFFFFF", "#FFFFFF", "#0000FF", "#FFFFFF", "#9900CC"]
          }
        },
        "stroke": {
          "field": "s", "type": "nominal",
          "scale": {
            "domain": ["5×10²⁰ (5K)", "5×10²⁰ (300K)", "1×10²⁰ (5K)", "1×10²⁰ (300K)", "5×10¹⁹ (5K)", "5×10¹⁹ (300K)"],
            "range": ["#CC0000", "#CC0000", "#0000FF", "#0000FF", "#9900CC", "#9900CC"]
          }
        }
      }
    },
    {
      "transform": [{"filter": {"field": "s", "oneOf": ["5×10¹⁹ (5K)", "5×10¹⁹ (300K)"]}}],
      "mark": {"type": "point", "shape": "diamond", "size": 324, "filled": true, "strokeWidth": 1.5, "opacity": 1},
      "encoding": {
        "x": {"field": "h", "type": "quantitative", "scale": {"domain": [-12500, 12150], "nice": false, "zero": false}, "axis": null},
        "y": {"field": "m", "type": "quantitative", "scale": {"domain": [-225, 225], "nice": false, "zero": false}, "axis": null},
        "fill": {
          "field": "s", "type": "nominal",
          "scale": {
            "domain": ["5×10²⁰ (5K)", "5×10²⁰ (300K)", "1×10²⁰ (5K)", "1×10²⁰ (300K)", "5×10¹⁹ (5K)", "5×10¹⁹ (300K)"],
            "range": ["#CC0000", "#FFFFFF", "#FFFFFF", "#0000FF", "#FFFFFF", "#9900CC"]
          }
        },
        "stroke": {
          "field": "s", "type": "nominal",
          "scale": {
            "domain": ["5×10²⁰ (5K)", "5×10²⁰ (300K)", "1×10²⁰ (5K)", "1×10²⁰ (300K)", "5×10¹⁹ (5K)", "5×10¹⁹ (300K)"],
            "range": ["#CC0000", "#CC0000", "#0000FF", "#0000FF", "#9900CC", "#9900CC"]
          }
        }
      }
    },
    {
      "data": {"values": [{}]},
      "mark": {"type": "text", "align": "left", "baseline": "top", "font": "DejaVu Sans", "fontSize": 33, "fontWeight": "bold", "lineHeight": 52, "color": "black"},
      "encoding": {
        "x": {"datum": -11967, "type": "quantitative", "scale": {"domain": [-12500, 12150], "nice": false, "zero": false}, "axis": null},
        "y": {"datum": 210, "type": "quantitative", "scale": {"domain": [-225, 225], "nice": false, "zero": false}, "axis": null},
        "text": {"value": ["Kr doped O polar", "ZnO film"]}
      }
    }
  ]
}
